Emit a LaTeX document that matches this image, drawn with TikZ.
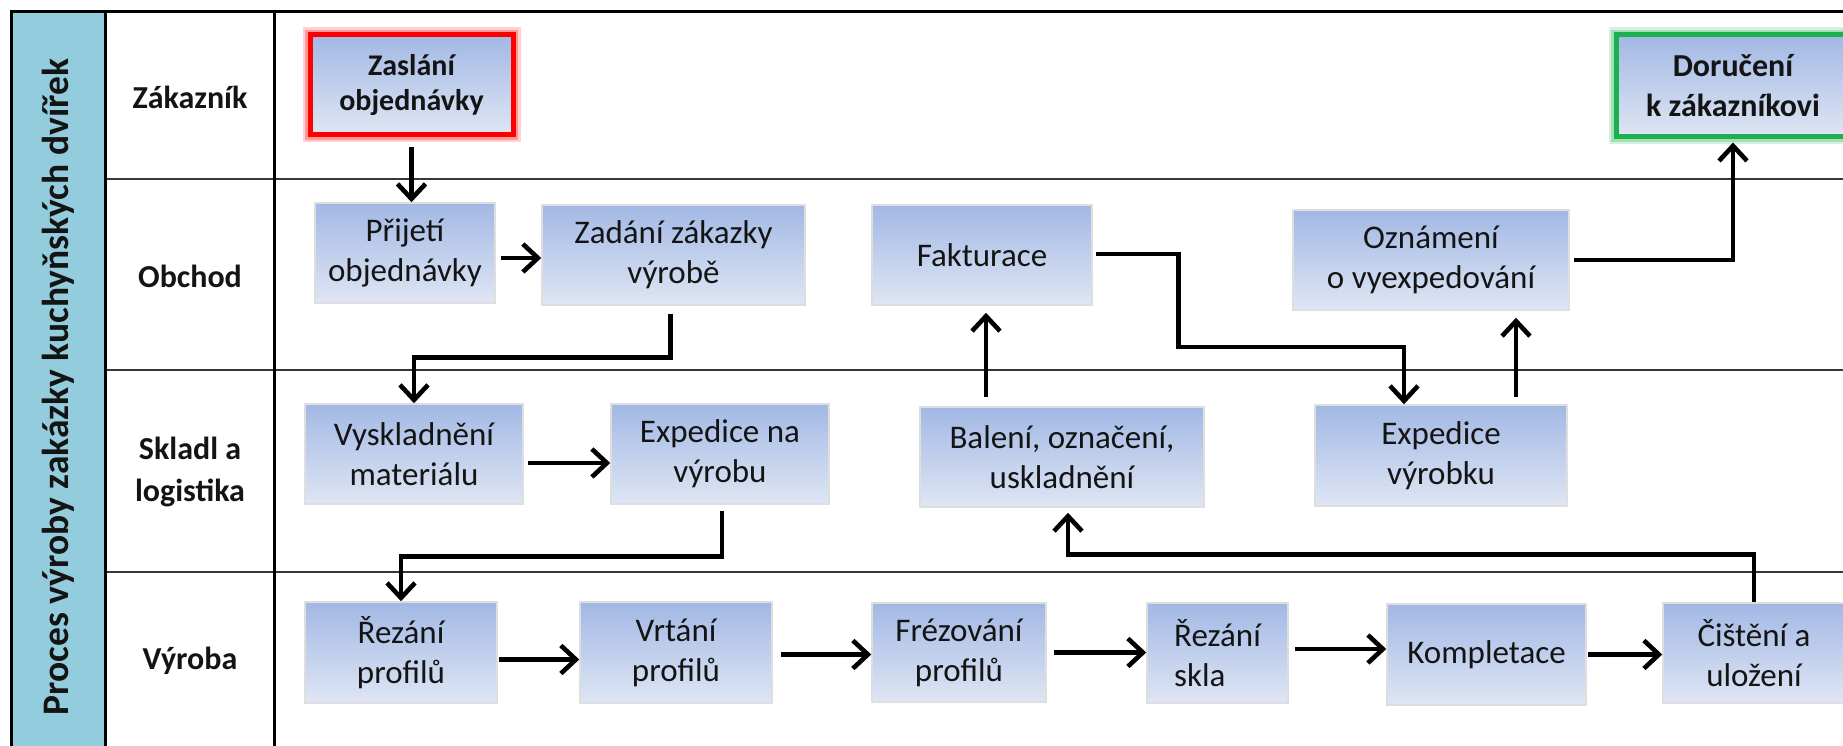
\documentclass[tikz,border=0pt]{standalone}
\usepackage{fontspec}
\setmainfont{Carlito}
\usetikzlibrary{arrows.meta,calc}

\definecolor{laneteal}{RGB}{147,205,221}
\definecolor{boxtop}{RGB}{162,184,228}
\definecolor{boxbot}{RGB}{223,230,244}
\definecolor{startred}{RGB}{255,0,0}
\definecolor{endgreen}{RGB}{28,176,78}
\definecolor{laneline}{RGB}{55,55,55}

\begin{document}
\begin{tikzpicture}[x=1pt,y=-1pt,
  stepbox/.style={draw=black!13, line width=1.5pt, top color=boxtop, bottom color=boxbot,
    inner sep=0pt, align=center, text=black!92, font=\fontsize{33}{40}\selectfont},
  startbox/.style={stepbox, draw=startred, line width=5pt,
    preaction={draw=startred!18, line width=15pt},
    preaction={draw=startred!40, line width=10pt},
    font=\bfseries\fontsize{30}{35}\selectfont},
  endbox/.style={stepbox, draw=endgreen, line width=5pt,
    preaction={draw=endgreen!18, line width=15pt},
    preaction={draw=endgreen!40, line width=10pt},
    font=\bfseries\fontsize{32}{40}\selectfont},
  lanelabel/.style={font=\bfseries\fontsize{32}{42}\selectfont, align=center, text=black!92},
  flow/.style={line width=4.6pt, line join=miter,
    -{Straight Barb[length=15pt,width=28pt]}},
  frameline/.style={line width=3pt, black},
  laneborder/.style={line width=2pt, laneline}
]
\useasboundingbox (0,0) rectangle (1843,746);
\clip (0,0) rectangle (1843,746);

% swimlane frame
\fill[laneteal] (11,12) rectangle (105,770);
\foreach \yy in {179,370,572}
  \draw[laneborder] (105,\yy) -- (1870,\yy);
\draw[frameline] (11,770) -- (11,12) -- (1870,12);
\draw[frameline] (105,12) -- (105,770);
\draw[frameline] (274,12) -- (274,770);

% process title and lane names
\node[rotate=90, font=\bfseries\fontsize{37.5}{40}\selectfont, text=black!92] (title) at (58,387)
  {Proces výroby zakázky kuchyňských dvířek};
\node[lanelabel] (lz) at (190,97) {Zákazník};
\node[lanelabel] (lo) at (190,276) {Obchod};
\node[lanelabel] (ls) at (190,472) {Skladl a\\logistika};
\node[lanelabel] (lv) at (190,661) {Výroba};

% process steps
\node[startbox, minimum width=203pt, minimum height=100pt] (zas) at (411.5,85) {Zaslání\\objednávky};
\node[endbox, minimum width=234pt, minimum height=102pt] (dor) at (1733,86) {Doručení\\k zákazníkovi};

\node[stepbox, minimum width=180pt, minimum height=100pt] (pri) at (405,253) {Přijetí\\objednávky};
\node[stepbox, minimum width=263pt, minimum height=100pt] (zad) at (673.5,255) {Zadání zákazky\\výrobě};
\node[stepbox, minimum width=220pt, minimum height=100pt] (fak) at (982,255) {Fakturace};
\node[stepbox, minimum width=276pt, minimum height=100pt] (ozn) at (1431,260) {Oznámení\\o vyexpedování};

\node[stepbox, minimum width=218pt, minimum height=100pt] (vys) at (414,454) {Vyskladnění\\materiálu};
\node[stepbox, minimum width=218pt, minimum height=100pt] (exn) at (720,454) {Expedice na\\výrobu};
\node[stepbox, minimum width=284pt, minimum height=100pt] (bal) at (1062,457) {Balení, označení,\\uskladnění};
\node[stepbox, minimum width=252pt, minimum height=101pt] (exv) at (1441,455.5) {Expedice\\výrobku};

\node[stepbox, minimum width=192pt, minimum height=101pt] (rez) at (401,652.5) {Řezání\\profilů};
\node[stepbox, minimum width=192pt, minimum height=101pt] (vrt) at (676,652.5) {Vrtání\\profilů};
\node[stepbox, minimum width=174pt, minimum height=99pt] (fre) at (959,652.5) {Frézování\\profilů};
\node[stepbox, minimum width=141pt, minimum height=100pt, align=left] (skl) at (1217.5,653) {Řezání\\skla};
\node[stepbox, minimum width=199pt, minimum height=101pt] (kom) at (1486.5,654.5) {Kompletace};
\node[stepbox, minimum width=182pt, minimum height=100pt] (cis) at (1754,653) {Čištění a\\uložení};

% connectors
\draw[flow] ([yshift=-10pt]zas.south) -- (zas.south |- pri.north);
\draw[flow] ([xshift=5pt,yshift=-5pt]pri.east) -- ([yshift=-5pt]pri.east -| zad.west);
\draw[flow] ([xshift=-3pt,yshift=-8pt]zad.south) -- ++(0,44) -| (vys.north);
\draw[flow] ([xshift=4pt,yshift=-9pt]vys.east) -- ([yshift=-9pt]vys.east -| exn.west);
\draw[flow] ([xshift=2pt,yshift=-6pt]exn.south) -- ++(0,46) -| (rez.north);

\draw[flow] ([xshift=1pt,yshift=-7pt]rez.east) -- ([yshift=-7pt]rez.east -| vrt.west);
\draw[flow] ([xshift=8pt,yshift=-2pt]vrt.east) -- ([yshift=-2pt]vrt.east -| fre.west);
\draw[flow] ([xshift=7pt]fre.east) -- (fre.east -| skl.west);
\draw[flow] ([xshift=6pt,yshift=4pt]skl.east) -- ([yshift=4pt]skl.east -| kom.west);
\draw[flow] ([xshift=1pt]kom.east) -- (kom.east -| cis.west);

\draw[flow] (cis.north) -- ++(0,-48) -| ([xshift=6pt,yshift=-5pt]bal.south);
\draw[flow] ([xshift=-76pt,yshift=9pt]bal.north) -- ([xshift=4pt,yshift=-7pt]fak.south);
\draw[flow] ([xshift=3pt,yshift=1pt]fak.east) -- ++(83,0) -- ++(0,93) -| ([xshift=-37pt]exv.north);
\draw[flow] ([xshift=75pt,yshift=7pt]exv.north) -- ([xshift=85pt,yshift=-7pt]ozn.south);
\draw[flow] ([xshift=4pt]ozn.east) -| ([yshift=-3pt]dor.south);
\end{tikzpicture}
\end{document}
